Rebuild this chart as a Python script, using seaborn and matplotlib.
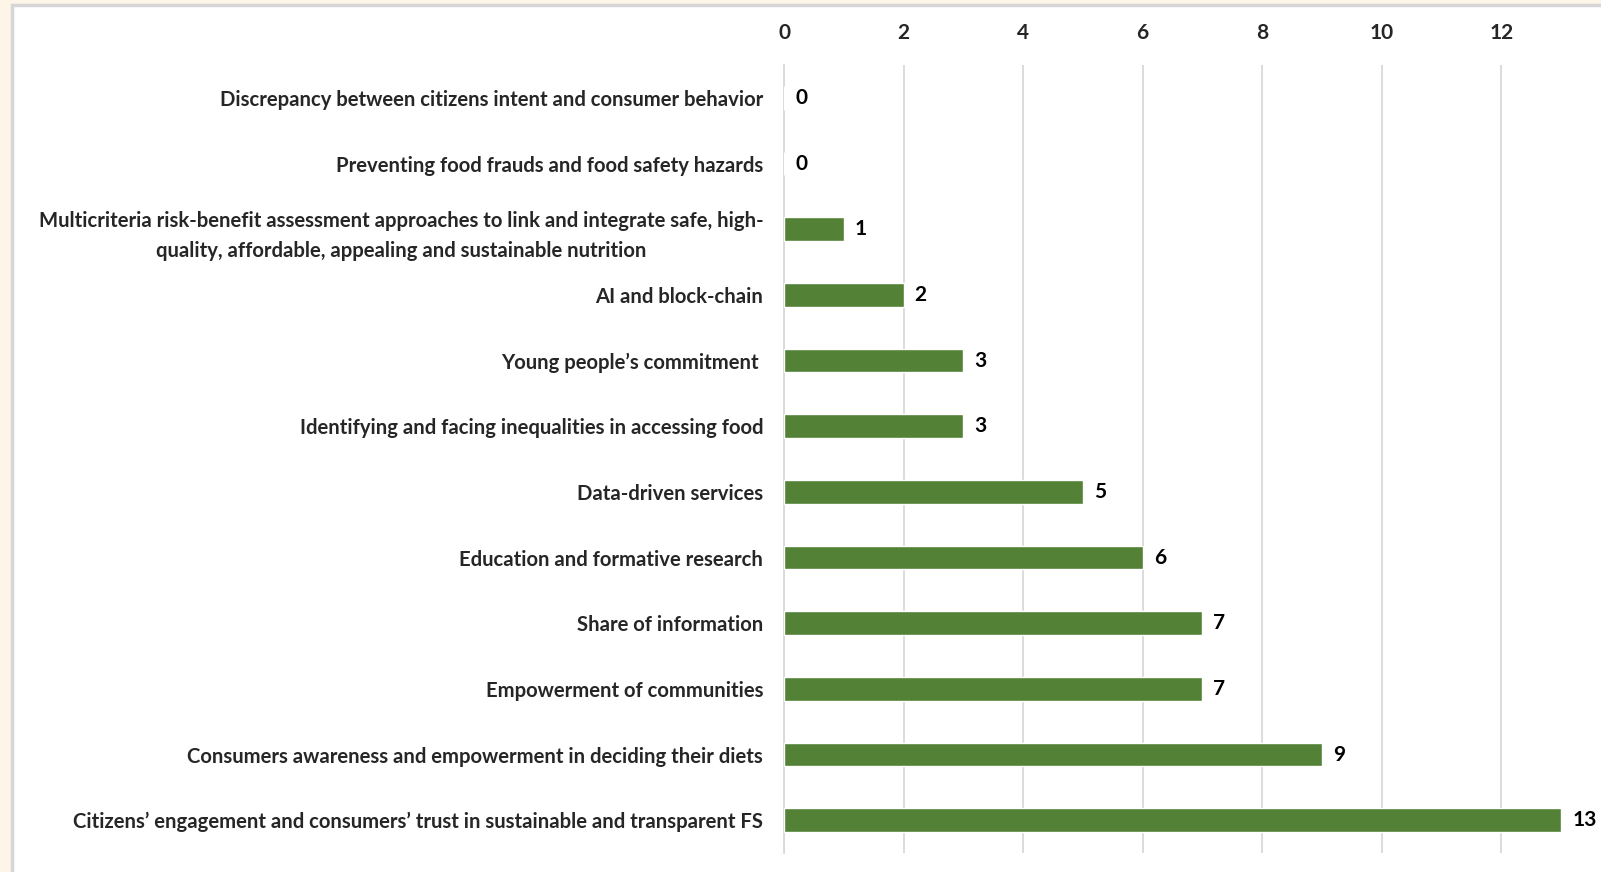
import matplotlib
matplotlib.use("Agg")
import matplotlib.pyplot as plt
import seaborn as sns
import pandas as pd
from matplotlib.patches import Rectangle

categories = [
    "Discrepancy between citizens intent and consumer behavior",
    "Preventing food frauds and food safety hazards",
    "Multicriteria risk-benefit assessment approaches to link and integrate safe, high-\nquality, affordable, appealing and sustainable nutrition",
    "AI and block-chain",
    "Young people\u2019s commitment ",
    "Identifying and facing inequalities in accessing food",
    "Data-driven services",
    "Education and formative research",
    "Share of information",
    "Empowerment of communities",
    "Consumers awareness and empowerment in deciding their diets",
    "Citizens\u2019 engagement and consumers\u2019 trust in sustainable and transparent FS",
]
values = [0, 0, 1, 2, 3, 3, 5, 6, 7, 7, 9, 13]
xticks = [0, 2, 4, 6, 8, 10, 12]

sns.set_theme(style="white")
plt.rcParams["font.family"] = ["Lato", "DejaVu Sans"]
plt.rcParams["font.weight"] = "bold"

df = pd.DataFrame({"cat": categories, "val": values})

fig = plt.figure(figsize=(16.01, 8.72), dpi=100)
fig.patch.set_facecolor("#FEF5E9")
W, H = 1601, 872
panel = Rectangle((12 / W, -0.01), 1.0, 1 - 5 / H + 0.01, transform=fig.transFigure,
                  facecolor="white", edgecolor="#D6D6D6", linewidth=2.5, zorder=-10)
fig.patches.append(panel)

ax = fig.add_axes([784 / W, 19 / H, (1561 - 784) / W, (853 - 65) / H])
ax.set_zorder(5)
ax.set_facecolor("none")
sns.barplot(data=df, x="val", y="cat", color="#538135", width=0.365, saturation=1,
            ax=ax, zorder=3)

ax.set_xlim(0, 13)
ax.set_xticks(xticks)
ax.xaxis.tick_top()
ax.tick_params(axis="x", length=0, pad=16, labelsize=15)
ax.tick_params(axis="y", length=0, pad=15, labelsize=14.6)
for lab in ax.get_xticklabels():
    lab.set_fontweight("bold")
for lab in ax.get_yticklabels():
    lab.set_fontweight("bold")
    lab.set_multialignment("center")
    lab.set_linespacing(1.6)
ax.set_xlabel("")
ax.set_ylabel("")
ax.grid(axis="x", color="#D9D9D9", linewidth=1.3, zorder=0)
ax.grid(axis="y", visible=False)
for s in ["top", "right", "bottom"]:
    ax.spines[s].set_visible(False)
ax.spines["left"].set_color("#D9D9D9")
ax.spines["left"].set_linewidth(1.3)

for i, v in enumerate(values):
    ax.annotate(str(v), xy=(v, i), xytext=(8, 0), textcoords="offset points",
                ha="left", va="center", fontsize=15, fontweight="bold", color="black")

fig.savefig("out.png", dpi=100, facecolor=fig.get_facecolor())
